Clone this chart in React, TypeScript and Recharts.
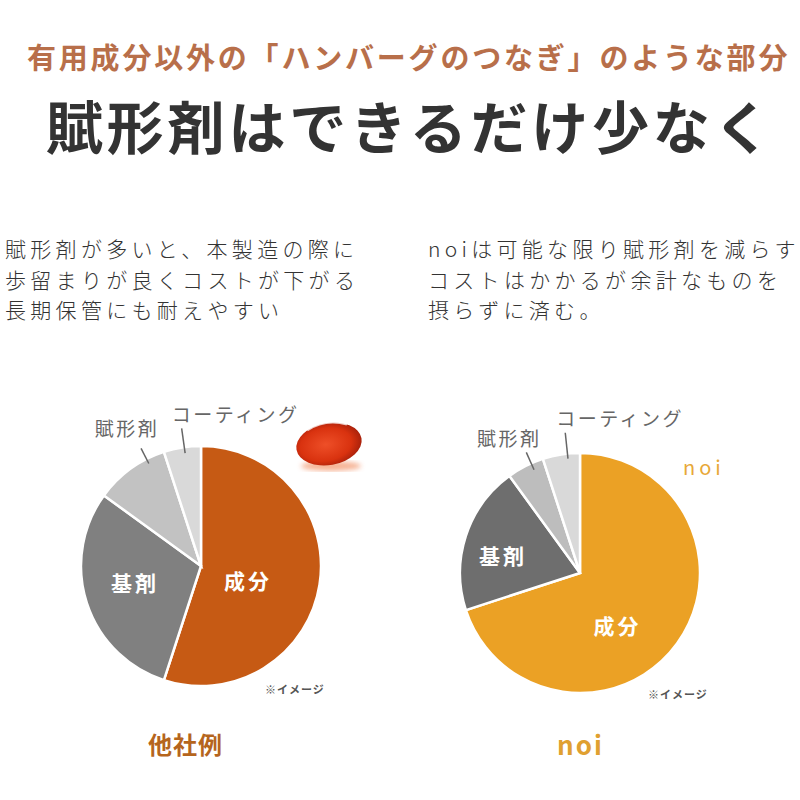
import { PieChart, Pie, Cell } from "recharts";

const sliceNames = ["成分", "基剤", "賦形剤", "コーティング"];
const otherValues = [55, 30, 10, 5];
const noiValues = [70, 20, 5, 5];
const otherColors = ["#c65a14", "#808080", "#c2c2c2", "#d9d9d9"];
const noiColors = ["#eba125", "#6e6e6e", "#bdbdbd", "#d9d9d9"];

const leftLines = ["賦形剤が多いと、本製造の際に", "歩留まりが良くコストが下がる", "長期保管にも耐えやすい"];
const rightLines = ["noiは可能な限り賦形剤を減らす", "コストはかかるが余計なものを", "摂らずに済む。"];

const FONT = '"Noto Sans CJK JP", "Noto Sans", sans-serif';
const RADIAN = Math.PI / 180;

const otherData = sliceNames.map((name, i) => ({ name, value: otherValues[i] }));
const noiData = sliceNames.map((name, i) => ({ name, value: noiValues[i] }));

// label placement per slice: inside labels use r, outside ones get a leader line
const otherPlacement = [
  { shift: -7, r: 49 },
  { shift: -4, r: 68 },
  { shift: -9, r1: 115, r2: 132, dx: -14, dy: -21, anchor: "middle" },
  { shift: -1, r1: 114, r2: 139, dx: -10, dy: -15, anchor: "start" },
];
const noiPlacement = [
  { shift: -18, r: 64 },
  { shift: 5, r: 79 },
  { shift: -3, r1: 113, r2: 132, dx: -17, dy: -15, anchor: "middle" },
  { shift: -3, r1: 115, r2: 141, dx: -9, dy: -15, anchor: "start" },
];

const makeLabel = (placement: any[]) => (props: any) => {
  const { cx, cy, midAngle, index, name } = props;
  const p = placement[index];
  const a = -(midAngle + p.shift) * RADIAN;
  if (p.r !== undefined) {
    return (
      <text
        x={cx + p.r * Math.cos(a)}
        y={cy + p.r * Math.sin(a)}
        fill="#fff"
        textAnchor="middle"
        dominantBaseline="central"
        style={{ fontFamily: FONT, fontSize: 21, fontWeight: 700, letterSpacing: 3 }}
      >
        {name}
      </text>
    );
  }
  const x1 = cx + p.r1 * Math.cos(a);
  const y1 = cy + p.r1 * Math.sin(a);
  const x2 = cx + p.r2 * Math.cos(a);
  const y2 = cy + p.r2 * Math.sin(a);
  return (
    <g>
      <line x1={x1} y1={y1} x2={x2} y2={y2} stroke="#666" strokeWidth={1.5} />
      <text
        x={x2 + p.dx}
        y={y2 + p.dy}
        fill="#666"
        textAnchor={p.anchor}
        dominantBaseline="central"
        style={{ fontFamily: FONT, fontSize: 19, letterSpacing: 2.5 }}
      >
        {name}
      </text>
    </g>
  );
};

const abs = (left: number, top: number, extra: any) => ({
  position: "absolute" as const,
  left,
  top,
  margin: 0,
  fontFamily: FONT,
  whiteSpace: "nowrap" as const,
  ...extra,
});

const Capsule = () => (
  <svg width={90} height={70} style={{ position: "absolute", left: 285, top: 408 }}>
    <defs>
      <radialGradient id="cap" cx="45%" cy="50%" r="60%">
        <stop offset="0%" stopColor="#ee4f28" />
        <stop offset="65%" stopColor="#d9320f" />
        <stop offset="100%" stopColor="#9a1c0a" />
      </radialGradient>
      <filter id="blur">
        <feGaussianBlur stdDeviation="2.5" />
      </filter>
    </defs>
    <ellipse cx={46} cy={58} rx={30} ry={5} fill="#f4a07a" filter="url(#blur)" opacity={0.8} />
    <ellipse cx={44} cy={36} rx={33} ry={21} fill="url(#cap)" transform="rotate(-10 44 36)" />
    <path d="M 22 22 Q 40 10 62 16" stroke="#fff" strokeWidth={3} fill="none" opacity={0.75} />
  </svg>
);

const paraStyle = { fontSize: 21, lineHeight: "28px", height: 28, color: "#333", letterSpacing: 4.3, fontWeight: 300 };

export default function App() {
  return (
    <div style={{ position: "relative", width: 800, height: 800, background: "#fff", overflow: "hidden" }}>
      <style>{`body{margin:0}`}</style>
      <PieChart width={800} height={800} style={{ position: "absolute", left: 0, top: 0 }}>
        <Pie
          data={otherData}
          dataKey="value"
          cx={196}
          cy={561}
          outerRadius={120}
          startAngle={90}
          endAngle={-270}
          stroke="#fff"
          strokeWidth={2.5}
          label={makeLabel(otherPlacement)}
          labelLine={false}
          isAnimationActive={false}
        >
          {otherData.map((d, i) => (
            <Cell key={d.name} fill={otherColors[i]} />
          ))}
        </Pie>
        <Pie
          data={noiData}
          dataKey="value"
          cx={575}
          cy={568}
          outerRadius={120}
          startAngle={90}
          endAngle={-270}
          stroke="#fff"
          strokeWidth={2.5}
          label={makeLabel(noiPlacement)}
          labelLine={false}
          isAnimationActive={false}
        >
          {noiData.map((d, i) => (
            <Cell key={d.name} fill={noiColors[i]} />
          ))}
        </Pie>
      </PieChart>

      <Capsule />

      <div style={abs(27, 40, { fontSize: 29, lineHeight: "32px", fontWeight: 700, color: "#b86f4a", letterSpacing: 2.8 })}>
        有用成分以外の「ハンバーグのつなぎ」のような部分
      </div>
      <div style={abs(46, 94, { fontSize: 57, lineHeight: "60px", fontWeight: 700, color: "#333", letterSpacing: 3.8 })}>
        賦形剤はできるだけ少なく
      </div>

      {leftLines.map((t, i) => (
        <div key={t} style={abs(5, 234 + i * 30.5, paraStyle)}>
          {t}
        </div>
      ))}
      {rightLines.map((t, i) => (
        <div key={t} style={abs(428, 234 + i * 30.5, paraStyle)}>
          {t}
        </div>
      ))}

      <div style={abs(683, 455, { fontSize: 20, lineHeight: "24px", color: "#e8a838", letterSpacing: 4 })}>noi</div>

      <div style={abs(265, 682, { fontSize: 11, lineHeight: "14px", fontWeight: 700, color: "#555", letterSpacing: 1 })}>
        ※イメージ
      </div>
      <div style={abs(648, 687, { fontSize: 11, lineHeight: "14px", fontWeight: 700, color: "#555", letterSpacing: 1 })}>
        ※イメージ
      </div>

      <div style={abs(148, 730, { fontSize: 24, lineHeight: "28px", fontWeight: 700, color: "#b5651d", letterSpacing: 1 })}>
        他社例
      </div>
      <div style={abs(557, 729, { fontSize: 26, lineHeight: "30px", fontWeight: 700, color: "#e0a030", letterSpacing: 2 })}>
        noi
      </div>
    </div>
  );
}
